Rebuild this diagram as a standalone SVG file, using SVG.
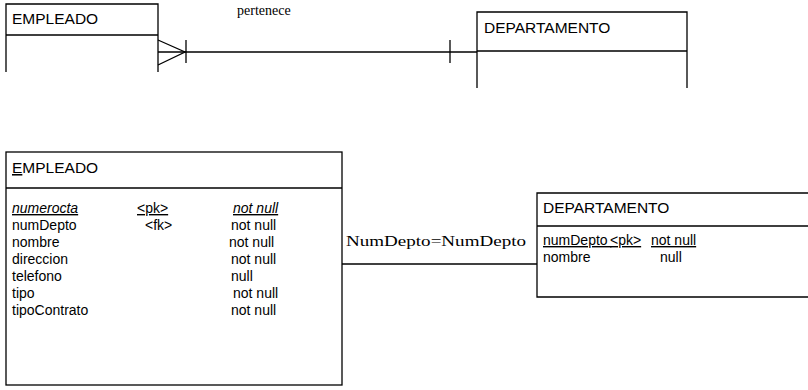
<svg xmlns="http://www.w3.org/2000/svg" width="808" height="390" viewBox="0 0 808 390">
<style>
.box{fill:none;stroke:#000;stroke-width:1.3}
.ln{fill:none;stroke:#000;stroke-width:1.3}
.t{font-family:"Liberation Sans",Arial,sans-serif;font-size:14px;fill:#000}
.h{font-family:"Liberation Sans",Arial,sans-serif;font-size:15.5px;fill:#000}
.s{font-family:"Liberation Serif","Times New Roman",serif;font-size:14px;fill:#000}
.u{text-decoration:underline}
.i{font-style:italic}
</style>
<rect width="808" height="390" fill="#fff"/>
<g id="empleado1">
<path class="box" d="M6,72 V4 H158 V72 M6,35 H158"/>
<text class="h" x="12" y="24">EMPLEADO</text>
</g>
<g id="departamento1">
<path class="box" d="M477,88 V12 H687 V88 M477,51 H687"/>
<text class="h" x="484" y="33">DEPARTAMENTO</text>
</g>
<g id="empleado2">
<rect class="box" x="6" y="152" width="336" height="233"/>
<path class="box" d="M6,188 H342"/>
<text class="h" x="12" y="173"><tspan class="u">E</tspan>MPLEADO</text>
<text class="t i u" x="12" y="213">numerocta</text>
<text class="t u" x="137" y="213">&lt;pk&gt;</text>
<text class="t i u" x="233" y="213">not null</text>
<text class="t" x="12" y="230">numDepto</text>
<text class="t" x="145" y="230">&lt;fk&gt;</text>
<text class="t" x="231" y="230">not null</text>
<text class="t" x="12" y="247">nombre</text>
<text class="t" x="229" y="247">not null</text>
<text class="t" x="12" y="264">direccion</text>
<text class="t" x="231" y="264">not null</text>
<text class="t" x="12" y="281">telefono</text>
<text class="t" x="231" y="281">null</text>
<text class="t" x="233" y="298">not null</text>
<text class="t" x="12" y="298">tipo</text>
<text class="t" x="12" y="315">tipoContrato</text>
<text class="t" x="231" y="315">not null</text>
</g>
<g id="departamento2">
<path class="box" d="M812,193 H537 V297 H812 M537,226 H812"/>
<text class="h" x="543" y="213">DEPARTAMENTO</text>
<text class="t u" x="543" y="245" font-size="13">numDepto&#160;</text>
<text class="t u" x="610" y="245" font-size="13">&lt;pk&gt;</text>
<text class="t u" x="651" y="245" font-size="13.5">not null</text>
<text class="t" x="543" y="262" font-size="13.5">nombre</text>
<text class="t" x="660" y="262" font-size="13.5">null</text>
</g>
<g id="connectors">
<path class="ln" d="M158,52 H477"/>
<path class="ln" d="M158,40 L185,52 L158,65"/>
<path class="ln" d="M186,40 V63"/>
<path class="ln" d="M450,40 V63"/>
<text class="s" x="237" y="15">pertenece</text>
<path class="ln" d="M342,264 H537"/>
<text class="s" x="346" y="246" font-size="17" textLength="180" lengthAdjust="spacingAndGlyphs">NumDepto=NumDepto</text>
</g>
</svg>
